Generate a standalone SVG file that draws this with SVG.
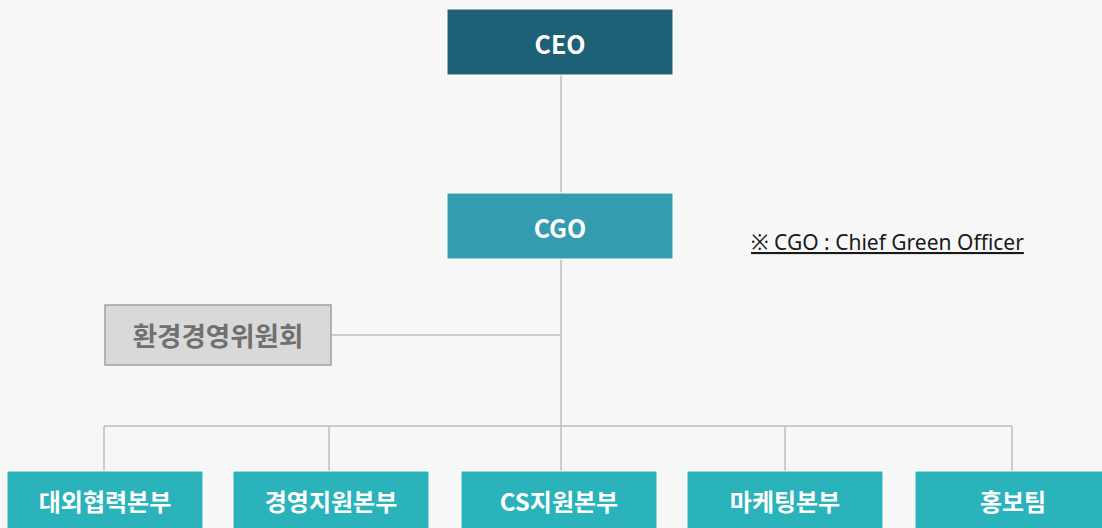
<svg xmlns="http://www.w3.org/2000/svg" width="1102" height="528" viewBox="0 0 1102 528">
<style>
.t{font-family:"Noto Sans CJK KR","Noto Sans",sans-serif;font-weight:bold;font-size:24px;fill:#ffffff;text-anchor:middle;dominant-baseline:central}
.c{stroke:#bfbfbf;stroke-width:1.5;fill:none}
.d{fill:#2ab3ba;stroke:#ffffff;stroke-width:1}
</style>
<rect width="1102" height="528" fill="#f7f7f7"/>
<g id="connectors">
<path class="c" d="M561 75V193M561 259V426M331 335H561M104 426H1012M104 426V471M329 426V471M561 426V471M785 426V471M1012 426V471"/>
</g>
<g id="ceo"><rect x="447" y="9" width="226" height="66" fill="#1e6176" stroke="#ffffff" stroke-width="1"/><text class="t" x="560" y="43" style="font-size:25px">CEO</text></g>
<g id="cgo"><rect x="447" y="193" width="226" height="66" fill="#339cb1" stroke="#ffffff" stroke-width="1"/><text class="t" x="560" y="227" style="font-size:25px">CGO</text></g>
<g id="committee"><rect x="105" y="305" width="226" height="60" fill="#d9d9d9" stroke="#a0a0a0" stroke-width="1.5"/><text class="t" x="218" y="334" style="fill:#707070;font-size:26.5px">환경경영위원회</text></g>
<g id="note"><text x="751" y="250" font-family="Noto Sans,&quot;Noto Sans CJK KR&quot;,sans-serif" font-size="21" fill="#1a1a1a" text-decoration="underline">※ CGO : Chief Green Officer</text></g>
<g id="d1"><rect class="d" x="7" y="471" width="196" height="62"/><text class="t" x="105" y="500">대외협력본부</text></g>
<g id="d2"><rect class="d" x="233" y="471" width="196" height="62"/><text class="t" x="331" y="500">경영지원본부</text></g>
<g id="d3"><rect class="d" x="461" y="471" width="196" height="62"/><text class="t" x="559" y="500">CS지원본부</text></g>
<g id="d4"><rect class="d" x="687" y="471" width="196" height="62"/><text class="t" x="785" y="500">마케팅본부</text></g>
<g id="d5"><rect class="d" x="915" y="471" width="196" height="62"/><text class="t" x="1013" y="500">홍보팀</text></g>
</svg>
